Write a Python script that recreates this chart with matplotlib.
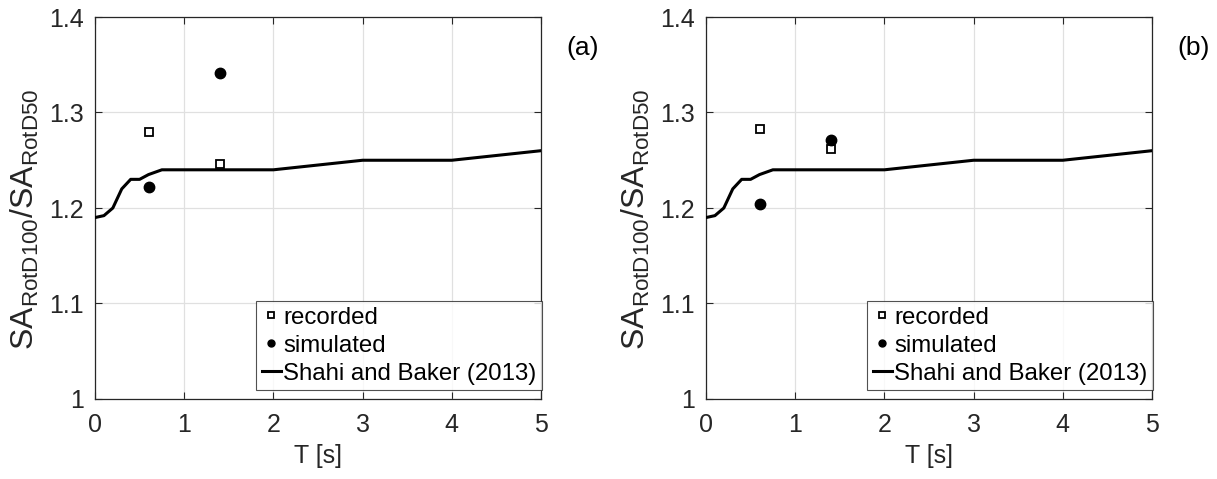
import numpy as np
import matplotlib.pyplot as plt

plt.rcParams['font.family'] = ['Liberation Sans', 'DejaVu Sans']

# Shahi and Baker (2013) RotD100/RotD50 model
T_model = [0.0, 0.1, 0.2, 0.3, 0.4, 0.5, 0.6, 0.75, 0.8, 1.0, 2.0, 3.0, 4.0, 5.0]
ratio_model = [1.19, 1.192, 1.20, 1.22, 1.23, 1.23, 1.235, 1.24, 1.24, 1.24, 1.24, 1.25, 1.25, 1.26]

T_obs = [0.6, 1.4]
rec_a = [1.280, 1.246]
sim_a = [1.222, 1.341]
rec_b = [1.283, 1.262]
sim_b = [1.204, 1.271]

panels = [("(a)", rec_a, sim_a), ("(b)", rec_b, sim_b)]
W, H = 1217, 479
lefts = [95, 706]

fig = plt.figure(figsize=(W / 100, H / 100), dpi=100)
axc = '0.15'

for left, (tag, rec, sim) in zip(lefts, panels):
    ax = fig.add_axes([left / W, (H - 399) / H, 446 / W, 382 / H])
    ax.plot(T_obs, rec, 's', mfc='white', mec='black', mew=1.3, ms=6, ls='none',
            label='recorded', zorder=4)
    ax.plot(T_obs, sim, 'o', color='black', ms=7.5, ls='none', label='simulated', zorder=4)
    ax.plot(T_model, ratio_model, color='black', lw=2.2, label='Shahi and Baker (2013)', zorder=3)

    ax.set_xlim(0, 5)
    ax.set_ylim(1, 1.4)
    ax.set_xticks(np.arange(0, 6, 1))
    ax.set_yticks([1, 1.1, 1.2, 1.3, 1.4])
    ax.set_yticklabels(['1', '1.1', '1.2', '1.3', '1.4'])
    ax.grid(True, color='0.88', lw=0.9)
    ax.set_axisbelow(True)
    ax.tick_params(direction='in', top=True, right=True, length=5, width=0.8,
                   labelsize=18, colors=axc, labelcolor='0.15')
    ax.tick_params(axis='y', pad=8)
    ax.tick_params(axis='x', pad=10)
    for s in ax.spines.values():
        s.set_color(axc)
        s.set_linewidth(0.9)
    ax.set_xlabel('T [s]', fontsize=18, color='0.15', labelpad=5)
    ax.set_ylabel(r'SA$_{\mathregular{RotD100}}$/SA$_{\mathregular{RotD50}}$',
                  fontsize=23, color='0.15')
    ax.yaxis.set_label_coords(-0.122, 0.47)
    leg = ax.legend(loc='lower right', bbox_to_anchor=(1.002, 0.024), fontsize=17.3,
                    frameon=True, fancybox=False, edgecolor=axc, borderaxespad=0,
                    handlelength=0.8, handletextpad=0.1, labelspacing=0.25,
                    borderpad=0.22)
    leg.get_frame().set_linewidth(0.8)
    for h in leg.legend_handles[:2]:
        h.set_markersize(5)
    ax.text(1.094, 0.918, tag, transform=ax.transAxes, fontsize=19,
            ha='center', va='center', color='black')

fig.savefig('out.png', dpi=100)
